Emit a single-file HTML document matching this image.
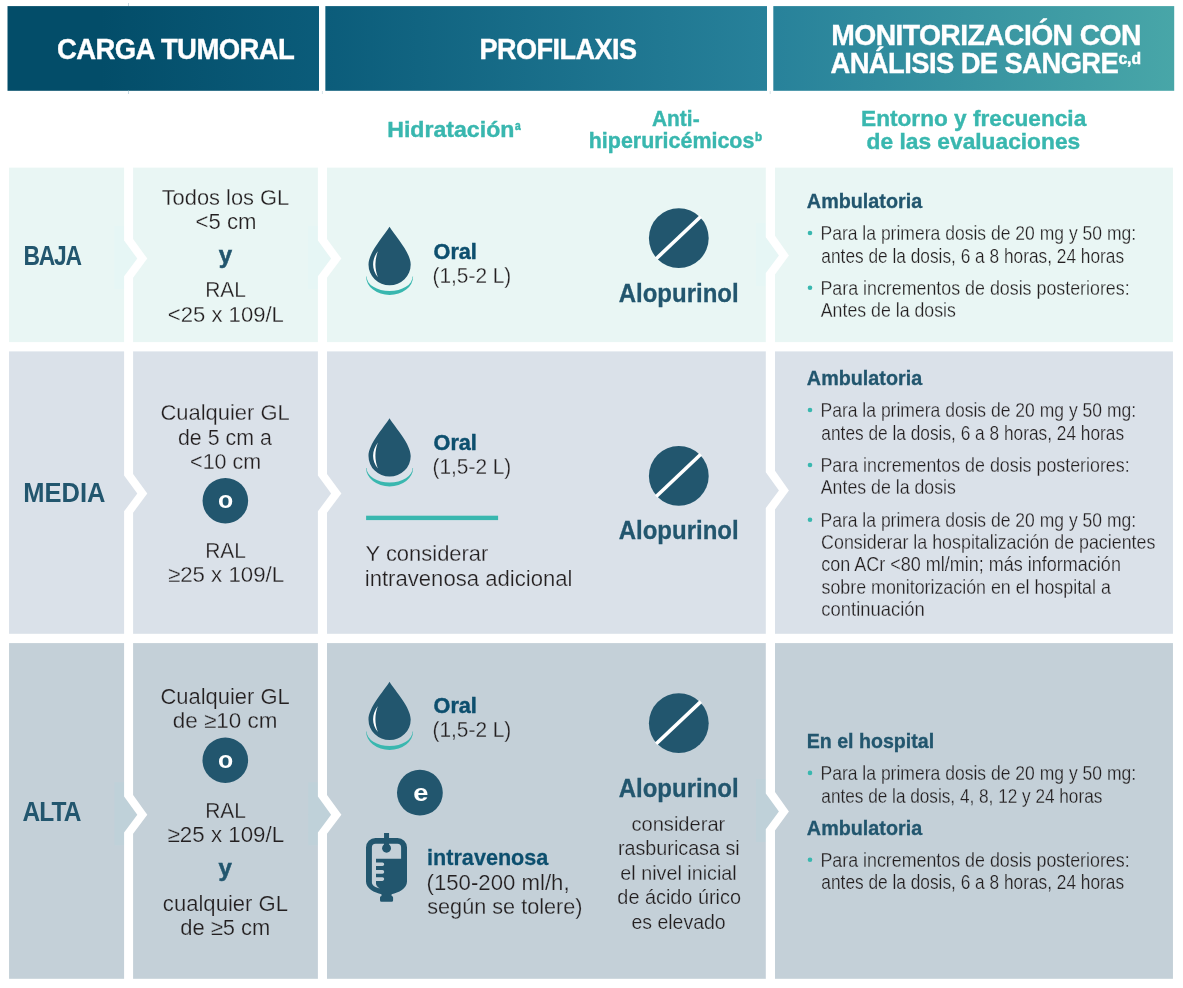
<!DOCTYPE html>
<html lang="es">
<head>
<meta charset="utf-8">
<title>Carga tumoral, profilaxis y monitorización</title>
<style>
html,body{margin:0;padding:0;background:#fff;}
body{width:1183px;height:988px;overflow:hidden;}
svg{display:block;font-family:"Liberation Sans",Arial,Helvetica,sans-serif;}
</style>
</head>
<body>
<svg width="1183" height="988" viewBox="0 0 1183 988">
<defs><linearGradient id="hg" x1="7.5" x2="1174.2" y1="0" y2="0" gradientUnits="userSpaceOnUse">
<stop offset="0" stop-color="#034d69"/><stop offset="0.08" stop-color="#034d69"/><stop offset="0.27" stop-color="#0b5c7a"/><stop offset="0.65" stop-color="#27819a"/><stop offset="1" stop-color="#48a6a8"/></linearGradient></defs>
<rect x="7.5" y="6.1" width="1166.7" height="84.7" fill="url(#hg)"/>
<rect x="319.0" y="0" width="6.35" height="92" fill="#fff"/>
<rect x="767.0" y="0" width="6.3" height="92" fill="#fff"/>
<path fill="#c8dae2" d="M128 3h1v3.1h-1zM128 90.8h1v3.2h-1z"/>
<path fill="#d7e4e9" d="M321.9 91h1v3h-1zM769.7 91h1v3h-1z"/>
<rect x="9.05" y="167.65" width="1163.9" height="174.45" fill="#e9f6f4"/>
<path fill="#e6f6f5" d="M114.3 226.1 H124.6 V240.5 L137.8 258.6 L124.6 276.3 V289.1 H114.3Z"/>
<path fill="#e6f6f5" d="M308.1 226.1 H318.4 V240.5 L331.6 258.6 L318.4 276.3 V289.1 H308.1Z"/>
<path fill="#e6f6f5" d="M756.0 222.9 H766.3 V237.3 L779.4 255.4 L766.3 273.1 V285.9 H756.0Z"/>
<polygon fill="#fff" points="124.10,166.65 133.10,166.65 133.10,239.00 147.30,258.60 133.10,277.70 133.10,343.10 124.10,343.10 124.10,276.30 137.30,258.60 124.10,240.50"/>
<polygon fill="#fff" points="317.90,166.65 327.00,166.65 327.00,239.00 341.40,258.60 327.00,277.70 327.00,343.10 317.90,343.10 317.90,276.30 331.10,258.60 317.90,240.50"/>
<polygon fill="#fff" points="765.80,166.65 775.00,166.65 775.00,235.80 788.90,255.40 775.00,274.50 775.00,343.10 765.80,343.10 765.80,273.10 778.90,255.40 765.80,237.30"/>
<rect x="9.05" y="351.4" width="1163.9" height="282.40" fill="#dae1e9"/>
<polygon fill="#fff" points="124.10,350.40 133.10,350.40 133.10,474.00 147.30,493.60 133.10,512.70 133.10,634.80 124.10,634.80 124.10,511.30 137.30,493.60 124.10,475.50"/>
<polygon fill="#fff" points="317.90,350.40 327.00,350.40 327.00,474.00 341.40,493.60 327.00,512.70 327.00,634.80 317.90,634.80 317.90,511.30 331.10,493.60 317.90,475.50"/>
<polygon fill="#fff" points="765.80,350.40 775.00,350.40 775.00,470.80 788.90,490.40 775.00,509.50 775.00,634.80 765.80,634.80 765.80,508.10 778.90,490.40 765.80,472.30"/>
<rect x="9.05" y="643.1" width="1163.9" height="335.70" fill="#c4d0d8"/>
<path fill="#bfd1d9" d="M114.3 782.2 H124.6 V796.6 L137.8 814.7 L124.6 832.4 V845.2 H114.3Z"/>
<path fill="#bfd1d9" d="M308.1 782.2 H318.4 V796.6 L331.6 814.7 L318.4 832.4 V845.2 H308.1Z"/>
<path fill="#bfd1d9" d="M756.0 779.0 H766.3 V793.4 L779.4 811.5 L766.3 829.2 V842.0 H756.0Z"/>
<polygon fill="#fff" points="124.10,642.10 133.10,642.10 133.10,795.10 147.30,814.70 133.10,833.80 133.10,979.80 124.10,979.80 124.10,832.40 137.30,814.70 124.10,796.60"/>
<polygon fill="#fff" points="317.90,642.10 327.00,642.10 327.00,795.10 341.40,814.70 327.00,833.80 327.00,979.80 317.90,979.80 317.90,832.40 331.10,814.70 317.90,796.60"/>
<polygon fill="#fff" points="765.80,642.10 775.00,642.10 775.00,791.90 788.90,811.50 775.00,830.60 775.00,979.80 765.80,979.80 765.80,829.20 778.90,811.50 765.80,793.40"/>
<g transform="translate(0 0)">
<path fill="#22566e" d="M389.5 226.8 C383.5 236.5 368.5 252.5 368.5 264.6 A21.1 20.6 0 0 0 410.7 264.6 C410.7 252.5 395.5 236.5 389.5 226.8Z"/>
<path fill="#fff" d="M377.9 251.2 C371.6 259.5 371.4 269.5 377.9 277.2 C374.6 268.8 374.6 259.8 377.9 251.2Z"/>
<path fill="#39b7af" d="M366.1 276.6 A23.5 18.4 0 0 0 413.1 276.6 L412.6 276.6 A23 14.5 0 0 1 366.6 276.6Z"/>
</g>
<g transform="translate(0 191.4)">
<path fill="#22566e" d="M389.5 226.8 C383.5 236.5 368.5 252.5 368.5 264.6 A21.1 20.6 0 0 0 410.7 264.6 C410.7 252.5 395.5 236.5 389.5 226.8Z"/>
<path fill="#fff" d="M377.9 251.2 C371.6 259.5 371.4 269.5 377.9 277.2 C374.6 268.8 374.6 259.8 377.9 251.2Z"/>
<path fill="#39b7af" d="M366.1 276.6 A23.5 18.4 0 0 0 413.1 276.6 L412.6 276.6 A23 14.5 0 0 1 366.6 276.6Z"/>
</g>
<g transform="translate(0 454.9)">
<path fill="#22566e" d="M389.5 226.8 C383.5 236.5 368.5 252.5 368.5 264.6 A21.1 20.6 0 0 0 410.7 264.6 C410.7 252.5 395.5 236.5 389.5 226.8Z"/>
<path fill="#fff" d="M377.9 251.2 C371.6 259.5 371.4 269.5 377.9 277.2 C374.6 268.8 374.6 259.8 377.9 251.2Z"/>
<path fill="#39b7af" d="M366.1 276.6 A23.5 18.4 0 0 0 413.1 276.6 L412.6 276.6 A23 14.5 0 0 1 366.6 276.6Z"/>
</g>
<circle cx="678.8" cy="238.1" r="29.9" fill="#22566e"/>
<line x1="656.1999999999999" y1="258.7" x2="700.8" y2="216.5" stroke="#fff" stroke-width="3.6"/>
<circle cx="678.8" cy="475.9" r="29.9" fill="#22566e"/>
<line x1="656.1999999999999" y1="496.5" x2="700.8" y2="454.29999999999995" stroke="#fff" stroke-width="3.6"/>
<circle cx="678.8" cy="723.2" r="29.9" fill="#22566e"/>
<line x1="656.1999999999999" y1="743.8000000000001" x2="700.8" y2="701.6" stroke="#fff" stroke-width="3.6"/>
<g>
<rect x="384.05" y="833" width="5" height="12" fill="#22566e"/>
<path fill="#22566e" d="M375.5 838 H397.5 A9.5 9.5 0 0 1 407 847.5 V881.5 C407 888.5 398.5 892.8 391.6 894.2 V896.1 A1.5 1.5 0 0 1 393.1 897.6 V900.3 A1.5 1.5 0 0 1 391.6 901.8 H381.5 A1.5 1.5 0 0 1 380 900.3 V897.6 A1.5 1.5 0 0 1 381.5 896.1 V894.2 C374.5 892.8 366 888.5 366 881.5 V847.5 A9.5 9.5 0 0 1 375.5 838Z"/>
<path fill="#c4d0d8" d="M375.6 843.7 H397.4 A3.7 3.7 0 0 1 401.1 847.4 V858.7 H376 V862.5 H382.4 A1.8 1.8 0 0 1 382.4 866.1 H376 V870.1 H382.4 A1.8 1.8 0 0 1 382.4 873.7 H376 V877.3 H382.4 A1.8 1.8 0 0 1 382.4 880.9 H376 V883.6 C376 885.6 377.8 887.4 379.8 888.5 C375.6 887.6 371.9 885.6 371.9 882.6 V847.4 A3.7 3.7 0 0 1 375.6 843.7Z"/>
<circle cx="386.55" cy="848.2" r="4.45" fill="#22566e"/>
<rect x="384.05" y="838" width="5" height="8" fill="#22566e"/>
</g>
<circle cx="225.35" cy="500.7" r="22.8" fill="#22566e"/>
<circle cx="225.3" cy="760.2" r="22.8" fill="#22566e"/>
<circle cx="419.9" cy="792.7" r="22.9" fill="#22566e"/>
<rect x="366.1" y="515.7" width="132" height="4.4" fill="#39b7af"/>
<circle cx="810" cy="233.00" r="2.3" fill="#39b7af"/>
<circle cx="810" cy="287.80" r="2.3" fill="#39b7af"/>
<circle cx="810" cy="410.00" r="2.3" fill="#39b7af"/>
<circle cx="810" cy="465.00" r="2.3" fill="#39b7af"/>
<circle cx="810" cy="519.70" r="2.3" fill="#39b7af"/>
<circle cx="810" cy="772.90" r="2.3" fill="#39b7af"/>
<circle cx="810" cy="859.80" r="2.3" fill="#39b7af"/>
<text transform="translate(56.88 59) scale(0.9485 1)" font-size="29" font-weight="bold" fill="#fff" stroke="#fff" stroke-width="0.35" letter-spacing="-0.6">CARGA TUMORAL</text>
<text transform="translate(479.59 59) scale(0.9346 1)" font-size="29" font-weight="bold" fill="#fff" stroke="#fff" stroke-width="0.35" letter-spacing="-0.6">PROFILAXIS</text>
<text transform="translate(831.22 45) scale(0.9763 1)" font-size="29" font-weight="bold" fill="#fff" stroke="#fff" stroke-width="0.35" letter-spacing="-0.6">MONITORIZACIÓN CON</text>
<text transform="translate(830.46 73) scale(0.9438 1)" font-size="29" font-weight="bold" fill="#fff" stroke="#fff" stroke-width="0.35" letter-spacing="-0.6">ANÁLISIS DE SANGRE</text>
<text transform="translate(1118.41 64) scale(0.9793 1)" font-size="16" font-weight="bold" fill="#fff" stroke="#fff" stroke-width="0.5">c,d</text>
<text transform="translate(387.26 137) scale(1.0277 1)" font-size="22.5" font-weight="bold" fill="#39b7af" stroke="#39b7af" stroke-width="0.4">Hidratación</text>
<text transform="translate(515.00 130) scale(0.8571 1)" font-size="12" font-weight="bold" fill="#39b7af" stroke="#39b7af" stroke-width="0.5">a</text>
<text transform="translate(652.02 126) scale(0.9292 1)" font-size="22.5" font-weight="bold" fill="#39b7af" stroke="#39b7af" stroke-width="0.4">Anti-</text>
<text transform="translate(588.76 148) scale(0.9535 1)" font-size="22.5" font-weight="bold" fill="#39b7af" stroke="#39b7af" stroke-width="0.4">hiperuricémicos</text>
<text transform="translate(755.12 141) scale(0.9692 1)" font-size="12" font-weight="bold" fill="#39b7af" stroke="#39b7af" stroke-width="0.5">b</text>
<text transform="translate(861.09 126) scale(1.0063 1)" font-size="22.5" font-weight="bold" fill="#39b7af" stroke="#39b7af" stroke-width="0.4">Entorno y frecuencia</text>
<text transform="translate(866.59 149) scale(1.0114 1)" font-size="22.5" font-weight="bold" fill="#39b7af" stroke="#39b7af" stroke-width="0.4">de las evaluaciones</text>
<text transform="translate(23.52 265) scale(0.8466 1)" font-size="27" font-weight="bold" fill="#22566e" letter-spacing="-1.5">BAJA</text>
<text transform="translate(23.35 502) scale(0.9444 1)" font-size="27" font-weight="bold" fill="#22566e">MEDIA</text>
<text transform="translate(22.42 821) scale(0.9071 1)" font-size="27" font-weight="bold" fill="#22566e" letter-spacing="-1">ALTA</text>
<text transform="translate(161.68 205) scale(0.9945 1)" font-size="22" fill="#231f20" stroke="#e9f6f4" stroke-width="0.25">Todos los GL</text>
<text transform="translate(195.47 229) scale(1.0078 1)" font-size="22" fill="#231f20" stroke="#e9f6f4" stroke-width="0.25">&lt;5 cm</text>
<text transform="translate(218.65 263) scale(1.0000 1)" font-size="24" font-weight="bold" fill="#22566e" stroke="#22566e" stroke-width="0.5">y</text>
<text transform="translate(205.21 297) scale(0.9525 1)" font-size="22" fill="#231f20" stroke="#e9f6f4" stroke-width="0.25">RAL</text>
<text transform="translate(167.87 322) scale(1.0040 1)" font-size="22" fill="#231f20" stroke="#e9f6f4" stroke-width="0.25">&lt;25 x 109/L</text>
<text transform="translate(160.38 420) scale(0.9988 1)" font-size="22" fill="#231f20" stroke="#dae1e9" stroke-width="0.25">Cualquier GL</text>
<text transform="translate(177.91 445) scale(0.9722 1)" font-size="22" fill="#231f20" stroke="#dae1e9" stroke-width="0.25">de 5 cm a</text>
<text transform="translate(190.10 469) scale(0.9771 1)" font-size="22" fill="#231f20" stroke="#dae1e9" stroke-width="0.25">&lt;10 cm</text>
<text transform="translate(217.96 508) scale(1.0353 1)" font-size="24" font-weight="bold" fill="#fff">o</text>
<text transform="translate(205.21 558) scale(0.9525 1)" font-size="22" fill="#231f20" stroke="#dae1e9" stroke-width="0.25">RAL</text>
<text transform="translate(167.91 582) scale(1.0124 1)" font-size="22" fill="#231f20" stroke="#dae1e9" stroke-width="0.25">≥25 x 109/L</text>
<text transform="translate(160.38 704) scale(0.9973 1)" font-size="22" fill="#231f20" stroke="#c4d0d8" stroke-width="0.25">Cualquier GL</text>
<text transform="translate(172.75 728) scale(1.0206 1)" font-size="22" fill="#231f20" stroke="#c4d0d8" stroke-width="0.25">de ≥10 cm</text>
<text transform="translate(217.96 768) scale(1.0353 1)" font-size="24" font-weight="bold" fill="#fff">o</text>
<text transform="translate(205.21 818) scale(0.9525 1)" font-size="22" fill="#231f20" stroke="#c4d0d8" stroke-width="0.25">RAL</text>
<text transform="translate(167.61 842) scale(1.0150 1)" font-size="22" fill="#231f20" stroke="#c4d0d8" stroke-width="0.25">≥25 x 109/L</text>
<text transform="translate(218.55 876) scale(1.0000 1)" font-size="24" font-weight="bold" fill="#22566e" stroke="#22566e" stroke-width="0.5">y</text>
<text transform="translate(162.87 911) scale(1.0037 1)" font-size="22" fill="#231f20" stroke="#c4d0d8" stroke-width="0.25">cualquier GL</text>
<text transform="translate(180.18 935) scale(0.9977 1)" font-size="22" fill="#231f20" stroke="#c4d0d8" stroke-width="0.25">de ≥5 cm</text>
<text transform="translate(433.58 259) scale(0.9605 1)" font-size="22.5" font-weight="bold" fill="#0d4f6e" stroke="#0d4f6e" stroke-width="0.5">Oral</text>
<text transform="translate(432.57 283) scale(0.9694 1)" font-size="21.5" fill="#231f20" stroke="#e9f6f4" stroke-width="0.25">(1,5-2 L)</text>
<text transform="translate(433.58 450) scale(0.9605 1)" font-size="22.5" font-weight="bold" fill="#0d4f6e" stroke="#0d4f6e" stroke-width="0.5">Oral</text>
<text transform="translate(432.57 474) scale(0.9694 1)" font-size="21.5" fill="#231f20" stroke="#dae1e9" stroke-width="0.25">(1,5-2 L)</text>
<text transform="translate(433.58 713) scale(0.9605 1)" font-size="22.5" font-weight="bold" fill="#0d4f6e" stroke="#0d4f6e" stroke-width="0.5">Oral</text>
<text transform="translate(432.57 737) scale(0.9694 1)" font-size="21.5" fill="#231f20" stroke="#c4d0d8" stroke-width="0.25">(1,5-2 L)</text>
<text transform="translate(618.75 302) scale(0.9225 1)" font-size="26" font-weight="bold" fill="#22566e" stroke="#22566e" stroke-width="0.3">Alopurinol</text>
<text transform="translate(618.75 539) scale(0.9225 1)" font-size="26" font-weight="bold" fill="#22566e" stroke="#22566e" stroke-width="0.3">Alopurinol</text>
<text transform="translate(618.75 797) scale(0.9225 1)" font-size="26" font-weight="bold" fill="#22566e" stroke="#22566e" stroke-width="0.3">Alopurinol</text>
<text transform="translate(365.53 561) scale(0.9988 1)" font-size="22" fill="#231f20" stroke="#dae1e9" stroke-width="0.25">Y considerar</text>
<text transform="translate(364.77 586) scale(1.0054 1)" font-size="22" fill="#231f20" stroke="#dae1e9" stroke-width="0.25">intravenosa adicional</text>
<text transform="translate(413.17 801) scale(1.1348 1)" font-size="24" font-weight="bold" fill="#fff">e</text>
<text transform="translate(427.05 865) scale(0.9832 1)" font-size="22" font-weight="bold" fill="#0d4f6e" stroke="#0d4f6e" stroke-width="0.25">intravenosa</text>
<text transform="translate(426.51 890) scale(1.0094 1)" font-size="22" fill="#231f20" stroke="#c4d0d8" stroke-width="0.25">(150-200 ml/h,</text>
<text transform="translate(427.24 914) scale(0.9846 1)" font-size="22" fill="#231f20" stroke="#c4d0d8" stroke-width="0.25">según se tolere)</text>
<text transform="translate(631.42 831) scale(1.0065 1)" font-size="20" fill="#231f20" stroke="#c4d0d8" stroke-width="0.25">considerar</text>
<text transform="translate(617.94 855) scale(0.9876 1)" font-size="20" fill="#231f20" stroke="#c4d0d8" stroke-width="0.25">rasburicasa si</text>
<text transform="translate(620.33 880) scale(0.9887 1)" font-size="20" fill="#231f20" stroke="#c4d0d8" stroke-width="0.25">el nivel inicial</text>
<text transform="translate(617.33 904) scale(0.9939 1)" font-size="20" fill="#231f20" stroke="#c4d0d8" stroke-width="0.25">de ácido úrico</text>
<text transform="translate(631.45 929) scale(0.9747 1)" font-size="20" fill="#231f20" stroke="#c4d0d8" stroke-width="0.25">es elevado</text>
<text transform="translate(806.86 208) scale(0.9645 1)" font-size="20.5" font-weight="bold" fill="#22566e" stroke="#22566e" stroke-width="0.3">Ambulatoria</text>
<text transform="translate(820.47 240) scale(0.8681 1)" font-size="20.2" fill="#231f20" stroke="#e9f6f4" stroke-width="0.25">Para la primera dosis de 20 mg y 50 mg:</text>
<text transform="translate(821.35 263) scale(0.8560 1)" font-size="20.2" fill="#231f20" stroke="#e9f6f4" stroke-width="0.25">antes de la dosis, 6 a 8 horas, 24 horas</text>
<text transform="translate(820.44 295) scale(0.8829 1)" font-size="20.2" fill="#231f20" stroke="#e9f6f4" stroke-width="0.25">Para incrementos de dosis posteriores:</text>
<text transform="translate(820.79 317) scale(0.8786 1)" font-size="20.2" fill="#231f20" stroke="#e9f6f4" stroke-width="0.25">Antes de la dosis</text>
<text transform="translate(806.86 385) scale(0.9645 1)" font-size="20.5" font-weight="bold" fill="#22566e" stroke="#22566e" stroke-width="0.3">Ambulatoria</text>
<text transform="translate(820.47 417) scale(0.8681 1)" font-size="20.2" fill="#231f20" stroke="#dae1e9" stroke-width="0.25">Para la primera dosis de 20 mg y 50 mg:</text>
<text transform="translate(821.35 440) scale(0.8560 1)" font-size="20.2" fill="#231f20" stroke="#dae1e9" stroke-width="0.25">antes de la dosis, 6 a 8 horas, 24 horas</text>
<text transform="translate(820.44 472) scale(0.8829 1)" font-size="20.2" fill="#231f20" stroke="#dae1e9" stroke-width="0.25">Para incrementos de dosis posteriores:</text>
<text transform="translate(820.79 494) scale(0.8786 1)" font-size="20.2" fill="#231f20" stroke="#dae1e9" stroke-width="0.25">Antes de la dosis</text>
<text transform="translate(820.47 527) scale(0.8681 1)" font-size="20.2" fill="#231f20" stroke="#dae1e9" stroke-width="0.25">Para la primera dosis de 20 mg y 50 mg:</text>
<text transform="translate(821.10 549) scale(0.8845 1)" font-size="20.2" fill="#231f20" stroke="#dae1e9" stroke-width="0.25">Considerar la hospitalización de pacientes</text>
<text transform="translate(821.32 571) scale(0.8914 1)" font-size="20.2" fill="#231f20" stroke="#dae1e9" stroke-width="0.25">con ACr &lt;80 ml/min; más información</text>
<text transform="translate(821.55 594) scale(0.8823 1)" font-size="20.2" fill="#231f20" stroke="#dae1e9" stroke-width="0.25">sobre monitorización en el hospital a</text>
<text transform="translate(821.30 616) scale(0.9126 1)" font-size="20.2" fill="#231f20" stroke="#dae1e9" stroke-width="0.25">continuación</text>
<text transform="translate(806.75 748) scale(0.9557 1)" font-size="20.5" font-weight="bold" fill="#22566e" stroke="#22566e" stroke-width="0.3">En el hospital</text>
<text transform="translate(820.47 780) scale(0.8681 1)" font-size="20.2" fill="#231f20" stroke="#c4d0d8" stroke-width="0.25">Para la primera dosis de 20 mg y 50 mg:</text>
<text transform="translate(821.35 803) scale(0.8515 1)" font-size="20.2" fill="#231f20" stroke="#c4d0d8" stroke-width="0.25">antes de la dosis, 4, 8, 12 y 24 horas</text>
<text transform="translate(806.86 835) scale(0.9645 1)" font-size="20.5" font-weight="bold" fill="#22566e" stroke="#22566e" stroke-width="0.3">Ambulatoria</text>
<text transform="translate(820.44 867) scale(0.8829 1)" font-size="20.2" fill="#231f20" stroke="#c4d0d8" stroke-width="0.25">Para incrementos de dosis posteriores:</text>
<text transform="translate(821.35 889) scale(0.8560 1)" font-size="20.2" fill="#231f20" stroke="#c4d0d8" stroke-width="0.25">antes de la dosis, 6 a 8 horas, 24 horas</text>
</svg>
</body>
</html>
